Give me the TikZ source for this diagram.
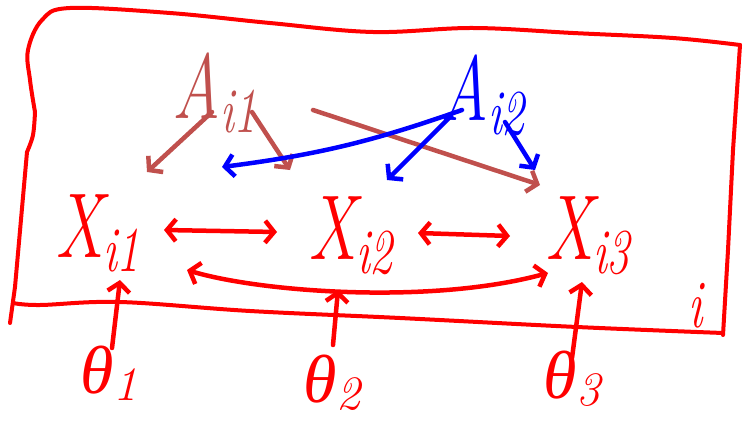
\documentclass[tikz,border=0pt]{standalone}
\usepackage{fontspec}
\usepackage{graphicx}
\newfontfamily\grkfont{Liberation Serif}
\usetikzlibrary{arrows.meta}
\definecolor{plred}{HTML}{FF0000}
\definecolor{plblue}{HTML}{0000FF}
\definecolor{plbrown}{HTML}{C0504D}
\newcommand\bigsub[1]{\raisebox{-14pt}{\fontsize{64}{64}\selectfont #1}}
\newcommand\midsub[1]{\raisebox{-7pt}{\fontsize{48}{48}\selectfont #1}}
\begin{document}
\begin{tikzpicture}[x=1pt,y=-1pt,
  pen/.style={line width=4.5pt,line cap=round,line join=round},
  platepen/.style={plred,line width=4pt,line cap=round,line join=round},
  tipend/.style={-{Straight Barb[length=9pt,width=22pt]}},
  tipboth/.style={{Straight Barb[length=9pt,width=22pt]}-{Straight Barb[length=9pt,width=22pt]}},
  big/.style={inner sep=0pt,outer sep=0pt,anchor=base west,font=\fontsize{92}{92}\selectfont\itshape},
  mid/.style={inner sep=0pt,outer sep=0pt,anchor=base west,font=\fontsize{68}{68}\selectfont\itshape}]
\useasboundingbox (0,0) rectangle (746,420);
% plate
\draw[platepen] plot[smooth,tension=0.6] coordinates {(35,112) (30,80) (28,50) (42,20) (70,8) (170,13) (270,23) (373,32) (473,28) (573,33) (673,38) (740,45)};
\draw[platepen] (740,45) -- (733,150) -- (728,250) -- (723,335);
\draw[platepen] plot[smooth,tension=0.6] coordinates {(723,333) (577,327) (400,318) (250,311) (120,302) (40,305) (13,303)};
\draw[platepen] plot[smooth,tension=0.6] coordinates {(35,112) (33,135) (27,152)} -- (15,287) -- (10,323);
% nodes
\node[big,plbrown] (A1) at (172,118) {\scalebox{0.72}[1]{A\bigsub{i1}}};
\node[big,plblue] (A2) at (440,120) {\scalebox{0.72}[1]{A\bigsub{i2}}};
\node[big,plred] (X1) at (55,257) {\scalebox{0.72}[1]{X\bigsub{i1}}};
\node[big,plred] (X2) at (308,259) {\scalebox{0.72}[1]{X\bigsub{i2}}};
\node[big,plred] (X3) at (545,259) {\scalebox{0.72}[1]{X\bigsub{i3}}};
\node[mid,plred] (T1) at (80,393) {{\grkfont θ}\midsub{1}};
\node[mid,plred] (T2) at (303,402) {{\grkfont θ}\midsub{2}};
\node[mid,plred] (T3) at (543,398) {{\grkfont θ}\midsub{3}};
\node[mid,plred] (I) at (688,327) {\scalebox{0.7}[1]{i}};
% A_i1 edges
\draw[pen,plbrown,tipend] ([shift={(40,-6)}]A1.base west) -- ([shift={(92,-85)}]X1.base west);
\draw[pen,plbrown,tipend] ([shift={(80,-6)}]A1.base west) -- ([shift={(-18,-89)}]X2.base west);
\draw[pen,plbrown,tipend] ([shift={(141,-8)}]A1.base west) -- ([shift={(-5,-74)}]X3.base west);
% A_i2 edges
\draw[pen,plblue,tipend] ([shift={(22,-10)}]A2.base west) to[bend left=6] ([shift={(167,-90)}]X1.base west);
\draw[pen,plblue,tipend] ([shift={(10,-3)}]A2.base west) -- ([shift={(79,-79)}]X2.base west);
\draw[pen,plblue,tipend] ([shift={(65,2)}]A2.base west) -- ([shift={(-10,-89)}]X3.base west);
% X edges
\draw[pen,plred,tipboth] ([shift={(109,-27)}]X1.base west) -- ([shift={(-31,-27)}]X2.base west);
\draw[pen,plred,tipboth] ([shift={(110,-26)}]X2.base west) -- ([shift={(-35,-23)}]X3.base west);
\draw[pen,plred,tipboth] ([shift={(132,13)}]X1.base west) .. controls (260,292) and (430,305) .. ([shift={(3,14)}]X3.base west);
% theta edges
\draw[pen,plred,tipend] ([shift={(32,-45)}]T1.base west) -- ([shift={(65,23)}]X1.base west);
\draw[pen,plred,tipend] ([shift={(30,-57)}]T2.base west) -- ([shift={(30,31)}]X2.base west);
\draw[pen,plred,tipend] ([shift={(29,-40)}]T3.base west) -- ([shift={(37,23)}]X3.base west);
\end{tikzpicture}
\end{document}
